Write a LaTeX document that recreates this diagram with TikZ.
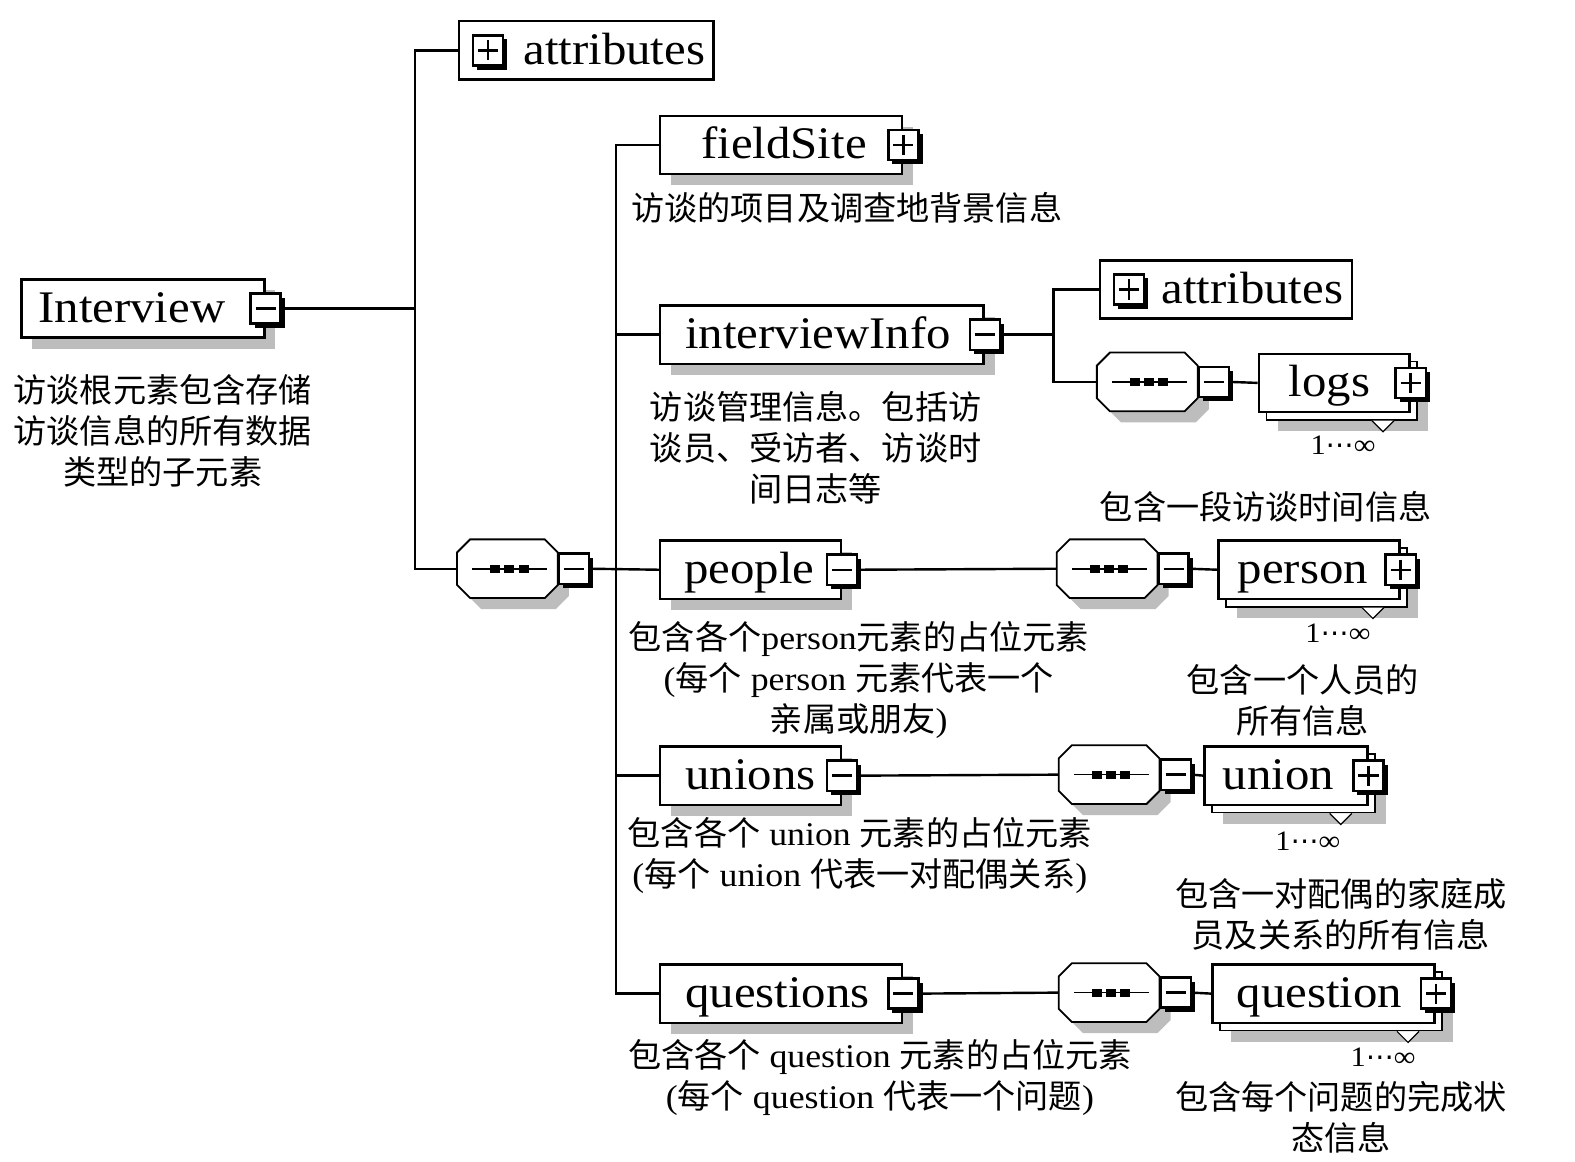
\documentclass[tikz,border=0pt]{standalone}
\usepackage{fontspec}
\setmainfont{Liberation Serif}[FakeStretch=1.08]
\newfontfamily\cjk{Noto Sans CJK SC}
\newfontfamily\symf{DejaVu Sans}
\usetikzlibrary{shadows,calc}
\definecolor{shadowgray}{gray}{0.74}
\newcommand\lt[1]{{\rmfamily#1}}
\pgfdeclarelayer{bg}
\pgfsetlayers{bg,main}
\newcommand\octpath[3]{([xshift=13pt+#2,yshift=#3]#1.north west) -- ([xshift=-13pt+#2,yshift=#3]#1.north east) -- ([xshift=#2,yshift=-13pt+#3]#1.north east) -- ([xshift=#2,yshift=13pt+#3]#1.south east) -- ([xshift=-13pt+#2,yshift=#3]#1.south east) -- ([xshift=13pt+#2,yshift=#3]#1.south west) -- ([xshift=#2,yshift=13pt+#3]#1.south west) -- ([xshift=#2,yshift=-13pt+#3]#1.north west) -- cycle}
\newcommand\seqdraw[1]{%
  \fill[shadowgray] \octpath{#1}{11pt}{-11pt};
  \filldraw[fill=white, line width=1.8pt] \octpath{#1}{0pt}{0pt};
  \draw[line width=1.6pt] ([xshift=15pt]#1.west) -- ([xshift=-11pt]#1.east);
  \foreach \dx in {-12,2,16} \fill ([xshift=\dx pt]#1.center) +(-5,-4) rectangle +(5,4);
}
\newcommand\notch[1]{\filldraw[fill=white, line width=1.2pt] ([xshift=-46pt]#1.south east) -- ++(11,11) -- ++(11,-11);}
\tikzset{
  elem/.style={draw, line width=2.4pt, fill=white, anchor=north west, minimum height=58pt,
    inner xsep=0pt, inner ysep=0pt, align=left, text height=38pt, text depth=10pt,
    font=\fontsize{45}{45}\selectfont},
  backelem/.style={elem, line width=1.8pt},
  gshadow/.style={drop shadow={shadow xshift=11pt, shadow yshift=-11pt, fill=shadowgray, opacity=1}},
  pmbox/.style={draw, line width=2.4pt, fill=white, minimum size=30pt, inner sep=0pt,
    drop shadow={shadow xshift=4pt, shadow yshift=-4pt, fill=black, opacity=1}},
  minusbox/.style={pmbox, path picture={\draw[line width=2.4pt] ([xshift=5pt]path picture bounding box.west) -- ([xshift=-5pt]path picture bounding box.east);}},
  plusbox/.style={pmbox, path picture={\draw[line width=2.4pt] ([xshift=5pt]path picture bounding box.west) -- ([xshift=-5pt]path picture bounding box.east) ([yshift=-5pt]path picture bounding box.north) -- ([yshift=5pt]path picture bounding box.south);}},
  seqbox/.style={minimum width=100pt, minimum height=58pt, inner sep=0pt, anchor=north west},
  desc/.style={align=center, font=\fontsize{33}{41}\selectfont\cjk, inner sep=0pt},
  mult/.style={font=\fontsize{28}{28}\selectfont, inner sep=0pt},
  conn/.style={line width=2.4pt},
}
\begin{document}
\begin{tikzpicture}[x=1pt,y=-1pt]
\useasboundingbox (0,0) rectangle (1568,1156);
\begin{pgfonlayer}{bg}
\fill[white] (0,0) rectangle (1568,1156);
\end{pgfonlayer}

% root
\node[elem, gshadow, text width=242pt] (interview) at (20,277) {\hspace*{17pt}Interview};
\node[minusbox] (imin) at (interview.east) {};

% top attributes
\node[elem, text width=253pt] (attr1) at (456,20) {\hspace*{64pt}attributes};
\node[plusbox] (a1p) at ([xshift=30pt]attr1.west) {};

% main sequence
\node[seqbox] (seq1) at (455,537) {};
\seqdraw{seq1}
\node[minusbox] (s1m) at ([xshift=16pt]seq1.east) {};

% children
\node[elem, gshadow, text width=241pt] (field) at (656,114) {\hspace*{41pt}fieldSite};
\node[plusbox] (fsp) at (field.east) {};

\node[elem, gshadow, text width=322pt] (ii) at (656,303) {\hspace*{25pt}interviewInfo};
\node[minusbox] (iim) at (ii.east) {};

\node[elem, gshadow, text width=180pt] (people) at (656,537) {\hspace*{24pt}people};
\node[minusbox] (pem) at (people.east) {};

\node[elem, gshadow, text width=180pt] (unions) at (656,742) {\hspace*{25pt}unions};
\node[minusbox] (unm) at (unions.east) {};

\node[elem, gshadow, text width=241pt] (questions) at (656,959) {\hspace*{25pt}questions};
\node[minusbox] (qum) at (questions.east) {};

% interviewInfo children
\node[elem, text width=251pt] (attr2) at (1094,258) {\hspace*{61pt}attributes};
\node[plusbox] (a2p) at ([xshift=30pt]attr2.west) {};

\node[seqbox] (seq2) at (1092,351) {};
\seqdraw{seq2}
\node[minusbox] (s2m) at ([xshift=16pt]seq2.east) {};

\node[backelem, gshadow, text width=150pt] (logsb) at (1260,359) {};
\notch{logsb}
\node[elem, text width=150pt] (logs) at (1252,351) {\hspace*{30pt}logs};
\node[plusbox] (lgp) at (logs.east) {};

% people children
\node[seqbox] (seq3) at (1052,537) {};
\seqdraw{seq3}
\node[minusbox] (s3m) at ([xshift=16pt]seq3.east) {};
\node[backelem, gshadow, text width=180pt] (personb) at (1220,545) {};
\notch{personb}
\node[elem, text width=180pt] (person) at (1212,537) {\hspace*{19pt}person};
\node[plusbox] (psp) at (person.east) {};

% unions children
\node[seqbox] (seq4) at (1054,742) {};
\seqdraw{seq4}
\node[minusbox] (s4m) at ([xshift=16pt]seq4.east) {};
\node[backelem, gshadow, text width=162pt] (unionb) at (1206,750) {};
\notch{unionb}
\node[elem, text width=162pt] (union) at (1198,742) {\hspace*{18pt}union};
\node[plusbox] (uop) at (union.east) {};

% questions children
\node[seqbox] (seq5) at (1054,959) {};
\seqdraw{seq5}
\node[minusbox] (s5m) at ([xshift=16pt]seq5.east) {};
\node[backelem, gshadow, text width=221pt] (questionb) at (1214,967) {};
\notch{questionb}
\node[elem, text width=221pt] (question) at (1206,959) {\hspace*{24pt}question};
\node[plusbox] (qsp) at (question.east) {};

% connectors
\coordinate (j1) at (413,306);
\coordinate (j2) at (613,566);
\coordinate (j3) at (1049,331);
\begin{pgfonlayer}{bg}
\draw[conn] (imin.east) -- (imin.east -| j1);
\draw[conn] (attr1.west) -| (j1) |- (seq1.west);
\draw[conn] (s1m.east) -- (people.west);
\draw[conn] (field.west) -| (j2) |- (questions.west);
\draw[conn] (ii.west) -- (ii.west -| j2);
\draw[conn] (unions.west) -- (unions.west -| j2);
\draw[conn] (iim.east) -- (iim.east -| j3);
\draw[conn] (attr2.west) -| (j3) |- (seq2.west);
\draw[conn] (s2m.east) -- (logs.west);
\draw[conn] (pem.east) -- (seq3.west);
\draw[conn] (s3m.east) -- (person.west);
\draw[conn] (unm.east) -- (seq4.west);
\draw[conn] (s4m.east) -- (union.west);
\draw[conn] (qum.east) -- (seq5.west);
\draw[conn] (s5m.east) -- (question.west);
\end{pgfonlayer}

% descriptions
\node[desc] (d0) at (162,429) {访谈根元素包含存储\\访谈信息的所有数据\\类型的子元素};
\node[desc] (d1) at (843,207) {访谈的项目及调查地背景信息};
\node[desc] (d2) at (812,446) {访谈管理信息。包括访\\谈员、受访者、访谈时\\间日志等};
\node[desc] (d3) at (1260,505) {包含一段访谈时间信息};
\node[desc] (d4) at (855,677) {包含各个\lt{person}元素的占位元素\\\lt{(}每个\lt{~person~}元素代表一个\\亲属或朋友\lt{)}};
\node[desc] (d5) at (1297,697) {包含一个人员的\\所有信息};
\node[desc] (d6) at (856,852) {包含各个\lt{~union~}元素的占位元素\\\lt{(}每个\lt{~union~}代表一对配偶关系\lt{)}};
\node[desc] (d7) at (1335,910) {包含一对配偶的家庭成\\员及关系的所有信息};
\node[desc] (d8) at (876,1073) {包含各个\lt{~question~}元素的占位元素\\\lt{(}每个\lt{~question~}代表一个问题\lt{)}};
\node[desc] (d9) at (1335,1112) {包含每个问题的完成状\\态信息};

% multiplicities
\node[mult] (m1) at (1337,443) {1{\symf ⋯}∞};
\node[mult] (m2) at (1332,630) {1{\symf ⋯}∞};
\node[mult] (m3) at (1302,837) {1{\symf ⋯}∞};
\node[mult] (m4) at (1377,1053) {1{\symf ⋯}∞};
\end{tikzpicture}
\end{document}
